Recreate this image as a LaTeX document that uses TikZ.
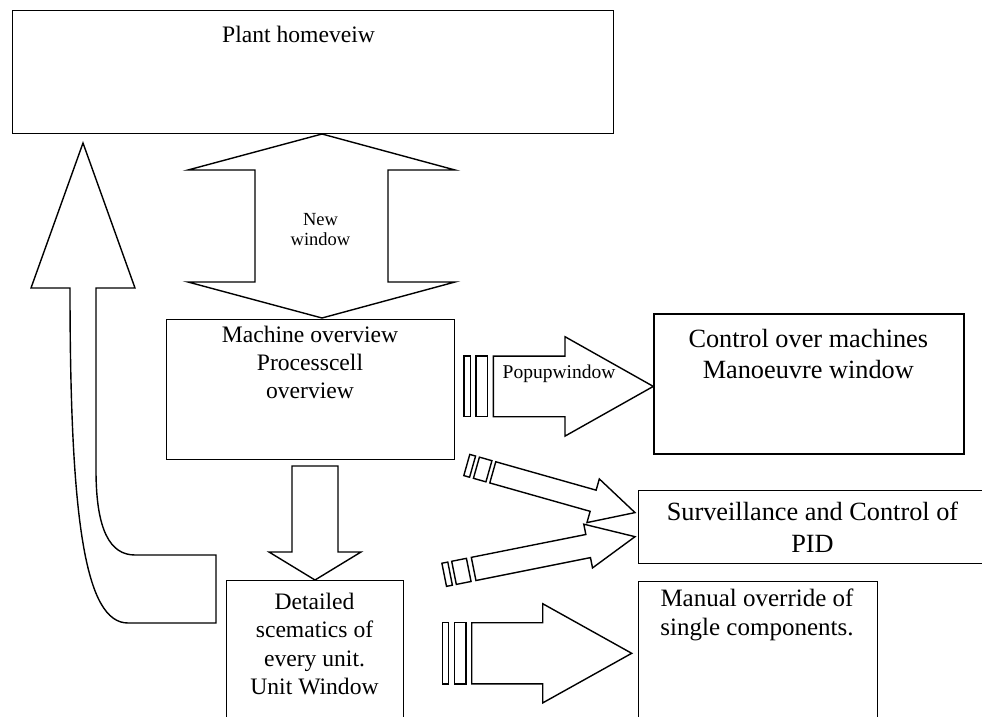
\documentclass[tikz,border=0pt]{standalone}
\usepackage{fontspec}
\setmainfont{Liberation Serif}
\begin{document}
\begin{tikzpicture}[x=1pt,y=-1pt,line join=miter,
  box/.style={draw,line width=1.4pt,inner sep=0pt,anchor=north west},
  blk/.style={draw,fill=white,line width=1.4pt},
  lbl/.style={inner sep=0pt,align=center,anchor=north},
  fbig/.style={font=\fontsize{26.3}{31.5}\selectfont},
  fmid/.style={font=\fontsize{23.6}{28}\selectfont},
  fsmall/.style={font=\fontsize{18.5}{20}\selectfont}]
\useasboundingbox (0,0) rectangle (982,717);
\clip (0,0) rectangle (982,717);

% window boxes
\node[box,minimum width=601pt,minimum height=123pt] (plant) at (12,10) {};
\node[box,minimum width=288pt,minimum height=140pt] (machine) at (166,319) {};
\node[box,minimum width=310pt,minimum height=140pt] (control) at (653.3,313.3) {};
\node[box,minimum width=349pt,minimum height=73pt] (pid) at (638,490) {};
\node[box,minimum width=177pt,minimum height=160pt] (unit) at (226,580) {};
\node[box,minimum width=239pt,minimum height=160pt] (manual) at (638,581) {};

% box texts
\node[lbl,fmid] (plantlbl) at (298.5,25.6) {Plant homeveiw};
\node[lbl,fmid] (machinelbl) at (310,325.9) {Machine overview\\Processcell\\overview};
\node[lbl,fbig] (controllbl) at (808.3,328.7) {Control over machines\\Manoeuvre window};
\node[lbl,fbig] (pidlbl) at (812.5,502) {Surveillance and Control of\\PID};
\node[lbl,font=\fontsize{23.6}{28.5}\selectfont] (unitlbl) at (314.5,592.9) {Detailed\\scematics of\\every unit.\\Unit Window};
\node[lbl,font=\fontsize{25}{29}\selectfont] (manuallbl) at (757,588.5) {Manual override of\\single components.};

% two-headed arrow between home view and machine overview
\draw[blk] (322,134) -- (455,170) -- (388,170) -- (388,282) -- (455,282)
  -- (322,318) -- (188,282) -- (255,282) -- (255,170) -- (188,170) -- cycle;
\node[lbl,fsmall] (newwin) at (320.5,212.8) {New\\window};

% arrow from machine overview down to the unit window
\draw[blk] (292,466) -- (338,466) -- (338,552) -- (361,552) -- (315,580)
  -- (269,552) -- (292,552) -- cycle;

% curved return arrow from the unit window up to the home view
\draw[blk] (83,143) -- (135,288) -- (96,288) -- (96,470)
  .. controls (96,530) and (110,555) .. (135,555) -- (216,555) -- (216,623)
  -- (128,623) .. controls (85,623) and (70,520) .. (70,288) -- (31,288) -- cycle;

% popup arrow to the manoeuvre window
\begin{scope}[shift={(464,386.4)}]
  \draw[blk] (0,-30.3) rectangle (6.7,30.3);
  \draw[blk] (12,-30.3) rectangle (23.7,30.3);
  \draw[blk] (29.3,-30.3) -- (101,-30.3) -- (101,-49.7) -- (189.3,0)
    -- (101,49.7) -- (101,30.3) -- (29.3,30.3) -- cycle;
\end{scope}
\node[anchor=base,inner sep=0pt,font=\fontsize{19.5}{22}\selectfont] (popuplbl) at (559,378) {Popupwindow};

% slanted arrows to the PID window
\begin{scope}[shift={(466.8,465)},rotate=-15.8]
  \draw[blk] (0,-11) rectangle (6,11);
  \draw[blk] (10,-11) rectangle (23,11);
  \draw[blk] (27,-11) -- (131.3,-11) -- (131.3,-22.7) -- (174.8,0)
    -- (131.3,22.7) -- (131.3,11) -- (27,11) -- cycle;
\end{scope}
\begin{scope}[shift={(444.2,574.8)},rotate=11.3]
  \draw[blk] (0,-11.8) rectangle (6,11.8);
  \draw[blk] (10,-11.8) rectangle (25,11.8);
  \draw[blk] (30,-11.8) -- (146.8,-11.8) -- (146.8,-22.3) -- (194.6,0)
    -- (146.8,22.3) -- (146.8,11.8) -- (30,11.8) -- cycle;
\end{scope}

% arrow to the manual override window
\begin{scope}[shift={(442.7,653.3)}]
  \draw[blk] (0,-30.6) rectangle (5.6,30.6);
  \draw[blk] (11.6,-30.6) rectangle (23.3,30.6);
  \draw[blk] (29,-30.6) -- (100,-30.6) -- (100,-49.6) -- (189,0)
    -- (100,49.6) -- (100,30.6) -- (29,30.6) -- cycle;
\end{scope}
\end{tikzpicture}
\end{document}
